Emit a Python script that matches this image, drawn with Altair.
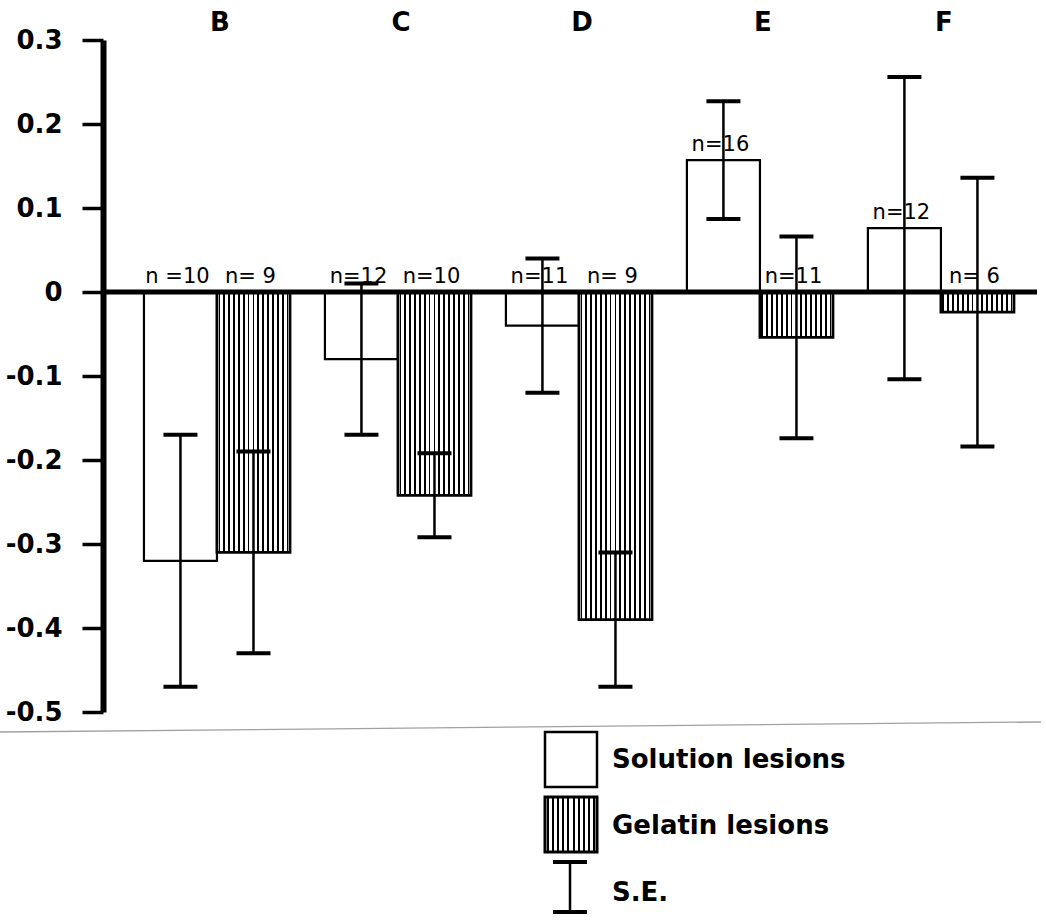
import altair as alt
import pandas as pd

# Mean change per lesion site, with standard errors
groups = ["B", "C", "D", "E", "F"]
series_names = ["Solution", "Gelatin"]

solution_mean = [-0.32, -0.08, -0.04, 0.157, 0.076]
solution_se = [0.15, 0.09, 0.08, 0.07, 0.18]
solution_n = ["n =10", "n=12", "n=11", "n=16", "n=12"]

gelatin_mean = [-0.31, -0.242, -0.39, -0.054, -0.024]
gelatin_se = [0.12, 0.05, 0.08, 0.12, 0.16]
gelatin_n = ["n= 9", "n=10", "n= 9", "n=11", "n= 6"]

y_ticks = [0.3, 0.2, 0.1, 0, -0.1, -0.2, -0.3, -0.4, -0.5]
legend_labels = ["Solution lesions", "Gelatin lesions", "S.E."]

rows = []
for i, g in enumerate(groups):
    rows.append({"group": g, "series": "Solution", "mean": solution_mean[i],
                 "se": solution_se[i], "n": solution_n[i]})
    rows.append({"group": g, "series": "Gelatin", "mean": gelatin_mean[i],
                 "se": gelatin_se[i], "n": gelatin_n[i]})
df = pd.DataFrame(rows)

W, H = 933, 672
BOLD_FONT = "DejaVu Sans"
TEXT_FONT = "DejaVu Sans"


def stripes(count, width):
    """Vertical black hatching as a horizontal linear gradient."""
    stops = [alt.GradientStop(color="white", offset=0)]
    for k in range(count):
        c = (k + 0.5) / count
        a, b = c - width / 2, c + width / 2
        stops += [
            alt.GradientStop(color="white", offset=a),
            alt.GradientStop(color="black", offset=a),
            alt.GradientStop(color="black", offset=b),
            alt.GradientStop(color="white", offset=b),
        ]
    stops.append(alt.GradientStop(color="white", offset=1))
    return alt.LinearGradient(gradient="linear", stops=stops, x1=0, x2=1, y1=0, y2=0)


hatch_bar = stripes(15, 0.024)
hatch_key = stripes(10, 0.035)

y_scale = alt.Scale(domain=[-0.5, 0.3], nice=False, zero=False)
y_axis = alt.Axis(
    values=y_ticks,
    title=None,
    grid=False,
    domainColor="black",
    domainWidth=6,
    tickColor="black",
    tickWidth=3.5,
    tickSize=21,
    labelPadding=20,
    labelFont=BOLD_FONT,
    labelFontWeight="bold",
    labelFontSize=26,
    labelColor="black",
    labelExpr="datum.value == 0 ? '0' : replace(format(datum.value, '.1f'), '\u2212', '-')",
)

x_enc = alt.X(
    "group:N",
    sort=groups,
    axis=None,
    scale=alt.Scale(paddingInner=0.193, paddingOuter=0.174, align=0.65),
)
xo_enc = alt.XOffset(
    "series:N",
    sort=series_names,
    scale=alt.Scale(domain=series_names, paddingInner=0, paddingOuter=0),
)

base = alt.Chart(df).transform_calculate(
    lo="datum.mean - datum.se",
    hi="datum.mean + datum.se",
    ytext="max(datum.mean, 0)",
)

solution_bars = base.transform_filter("datum.series == 'Solution'").mark_bar(
    fill="white", stroke="black", strokeWidth=2.2
).encode(x=x_enc, xOffset=xo_enc, y=alt.Y("mean:Q", scale=y_scale, axis=y_axis))

gelatin_bars = base.transform_filter("datum.series == 'Gelatin'").mark_bar(
    fill=hatch_bar, stroke="black", strokeWidth=2.8
).encode(x=x_enc, xOffset=xo_enc, y=alt.Y("mean:Q", scale=y_scale, axis=y_axis))

zero_line = alt.Chart(pd.DataFrame({"v": [0]})).mark_rule(
    color="black", strokeWidth=5
).encode(y=alt.Y("v:Q", scale=y_scale, axis=y_axis), x=alt.value(0), x2=alt.value(W + 1))

err_stem = base.mark_rule(color="black", strokeWidth=2.5).encode(
    x=x_enc, xOffset=xo_enc,
    y=alt.Y("lo:Q", scale=y_scale, axis=y_axis), y2="hi:Q",
)
err_cap_lo = base.mark_tick(color="black", opacity=1, thickness=4, size=34).encode(
    x=x_enc, xOffset=xo_enc, y=alt.Y("lo:Q", scale=y_scale, axis=y_axis)
)
err_cap_hi = base.mark_tick(color="black", opacity=1, thickness=4, size=34).encode(
    x=x_enc, xOffset=xo_enc, y=alt.Y("hi:Q", scale=y_scale, axis=y_axis)
)

n_labels = base.mark_text(
    font=TEXT_FONT, fontSize=21, baseline="bottom", dy=-5, dx=-3, color="black"
).encode(
    x=x_enc, xOffset=xo_enc,
    y=alt.Y("ytext:Q", scale=y_scale, axis=y_axis),
    text="n:N",
)

group_titles = alt.Chart(pd.DataFrame({"group": groups})).mark_text(
    font=BOLD_FONT, fontSize=26, fontWeight="bold", baseline="alphabetic", dx=3, color="black"
).encode(x=x_enc, y=alt.value(-9), text="group:N")

# faint page edge running under the plot
edge = alt.Chart(pd.DataFrame({"k": [0]})).mark_rule(
    color="#8a8a8a", strokeWidth=1.3, opacity=0.8
).encode(x=alt.value(-103), x2=alt.value(W + 5), y=alt.value(692), y2=alt.value(682))

# legend drawn below the plot
one = pd.DataFrame({"k": [0]})
key_solution = alt.Chart(one).mark_rect(fill="white", stroke="black", strokeWidth=2.5).encode(
    x=alt.value(442), x2=alt.value(494), y=alt.value(692), y2=alt.value(747)
)
key_gelatin = alt.Chart(one).mark_rect(fill=hatch_key, stroke="black", strokeWidth=3).encode(
    x=alt.value(442), x2=alt.value(494), y=alt.value(757), y2=alt.value(812)
)
key_se_stem = alt.Chart(one).mark_rule(color="black", strokeWidth=2.5).encode(
    x=alt.value(467), y=alt.value(822), y2=alt.value(872)
)
key_se_top = alt.Chart(one).mark_rule(color="black", strokeWidth=4).encode(
    x=alt.value(450), x2=alt.value(484), y=alt.value(822)
)
key_se_bottom = alt.Chart(one).mark_rule(color="black", strokeWidth=4).encode(
    x=alt.value(450), x2=alt.value(484), y=alt.value(872)
)


def key_text(label, y):
    return alt.Chart(pd.DataFrame({"label": [label]})).mark_text(
        font=BOLD_FONT, fontSize=26, fontWeight="bold", align="left", baseline="middle", color="black"
    ).encode(x=alt.value(509), y=alt.value(y), text="label:N")


chart = alt.layer(
    edge,
    solution_bars,
    gelatin_bars,
    zero_line,
    err_stem,
    err_cap_lo,
    err_cap_hi,
    n_labels,
    group_titles,
    key_solution,
    key_gelatin,
    key_se_stem,
    key_se_top,
    key_se_bottom,
    key_text(legend_labels[0], 720),
    key_text(legend_labels[1], 786),
    key_text(legend_labels[2], 853),
).properties(
    width=W,
    height=H,
    autosize=alt.AutoSizeParams(type="none"),
    padding={"left": 103, "top": 40, "right": 10, "bottom": 210},
    background="white",
).configure_view(stroke=None)

chart.save("out.html", embed_options={"renderer": "svg", "actions": False})
